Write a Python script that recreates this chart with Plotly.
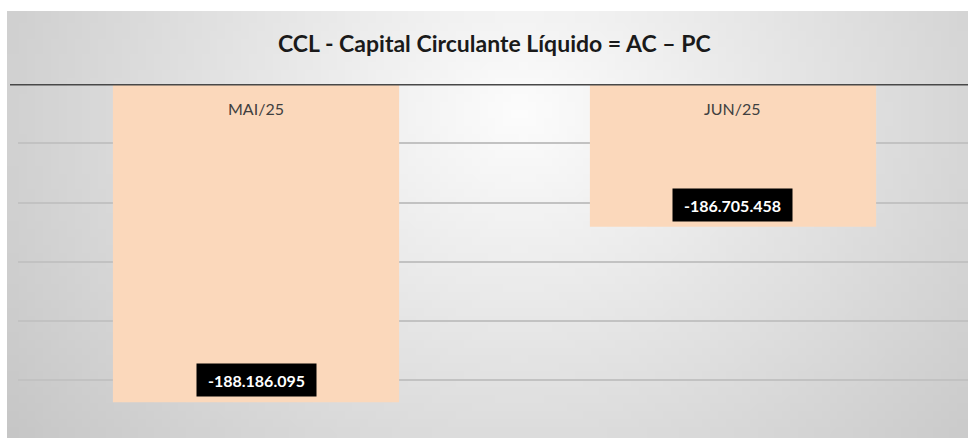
import base64
import struct
import zlib

import numpy as np
import plotly.graph_objects as go

# ---------------- data ----------------
categories = ["MAI/25", "JUN/25"]
values = [-188186095, -186705458]
value_labels = ["-188.186.095", "-186.705.458"]
title_text = "CCL - Capital Circulante Líquido = AC – PC"

AXIS_TOP = -185_500_000
AXIS_BOTTOM = -188_487_000
GRID_STEP = 500_000

# ---------------- background gradient (styling only) ----------------
W, H = 121, 54
px_x = np.linspace(7, 968, W)
px_y = np.linspace(11, 438, H)
XX, YY = np.meshgrid(px_x, px_y)
d = np.sqrt((XX - 520) ** 2 + ((YY - 110) * 1.15) ** 2)
c = np.clip(253 - 0.085 * d, 198, 253).astype(np.uint8)
img = np.stack([c, c, c], axis=-1)


def png_uri(arr):
    h, w, _ = arr.shape
    raw = b"".join(b"\x00" + arr[i].tobytes() for i in range(h))

    def chunk(tag, data):
        return (struct.pack(">I", len(data)) + tag + data +
                struct.pack(">I", zlib.crc32(tag + data) & 0xFFFFFFFF))

    png = (b"\x89PNG\r\n\x1a\n" +
           chunk(b"IHDR", struct.pack(">IIBBBBB", w, h, 8, 2, 0, 0, 0)) +
           chunk(b"IDAT", zlib.compress(raw, 9)) +
           chunk(b"IEND", b""))
    return "data:image/png;base64," + base64.b64encode(png).decode()


FIG_W, FIG_H = 968, 438
M_L, M_R, M_T, M_B = 18, 0, 84, 0
plot_w = FIG_W - M_L - M_R
plot_h = FIG_H - M_T - M_B

x_idx = list(range(len(categories)))

fig = go.Figure()
fig.add_trace(go.Bar(
    x=x_idx,
    y=[v - AXIS_TOP for v in values],
    base=[AXIS_TOP] * len(values),
    width=0.6,
    marker=dict(color="#fbd8bb", line=dict(width=0)),
    hovertext=value_labels,
    hoverinfo="text",
    showlegend=False,
))

annotations = []
for i, (cat, v, lab) in enumerate(zip(categories, values, value_labels)):
    annotations.append(dict(
        x=i, y=AXIS_TOP, xref="x", yref="y", text=cat, showarrow=False,
        yanchor="middle", yshift=-24,
        font=dict(family="Lato", size=16, color="#404040"),
    ))
    annotations.append(dict(
        x=i, y=v, xref="x", yref="y", text="<b>%s</b>" % lab, showarrow=False,
        yanchor="bottom", yshift=5,
        width=111, height=24, borderpad=4, bgcolor="#000000",
        font=dict(family="Lato", size=16, color="#ffffff"),
    ))

annotations.append(dict(
    x=(494 - M_L) / plot_w, y=(FIG_H - 43) / plot_h, xref="paper", yref="paper",
    text="<b>%s</b>" % title_text, showarrow=False,
    xanchor="center", yanchor="middle",
    font=dict(family="Lato", size=23, color="#1a1a1a"),
))

fig.update_layout(
    width=FIG_W, height=FIG_H,
    margin=dict(l=M_L, r=M_R, t=M_T, b=M_B, pad=0),
    paper_bgcolor="#ffffff",
    plot_bgcolor="rgba(0,0,0,0)",
    images=[dict(
        source=png_uri(img), xref="paper", yref="paper",
        x=(7 - M_L) / plot_w, y=(FIG_H - 11) / plot_h,
        sizex=(968 - 7) / plot_w, sizey=(438 - 11) / plot_h,
        sizing="stretch", xanchor="left", yanchor="top", layer="below",
    )],
    xaxis=dict(range=[-0.499, 1.4927], showgrid=False, zeroline=False,
               showticklabels=False, showline=False, fixedrange=True),
    yaxis=dict(range=[AXIS_BOTTOM, AXIS_TOP], tick0=AXIS_TOP, dtick=GRID_STEP,
               showgrid=True, gridcolor="#c2c2c2", gridwidth=1.5,
               zeroline=False, showticklabels=False, showline=False,
               fixedrange=True),
    shapes=[dict(
        type="line", xref="paper", yref="y",
        x0=(10 - M_L) / plot_w, x1=1, y0=AXIS_TOP, y1=AXIS_TOP,
        line=dict(color="#484848", width=3), layer="above",
    )],
    annotations=annotations,
    bargap=0.4,
)

fig.write_html(
    "out.html",
    config={"displayModeBar": False},
    post_script="document.body.style.margin='0';document.body.style.overflow='hidden';",
)
